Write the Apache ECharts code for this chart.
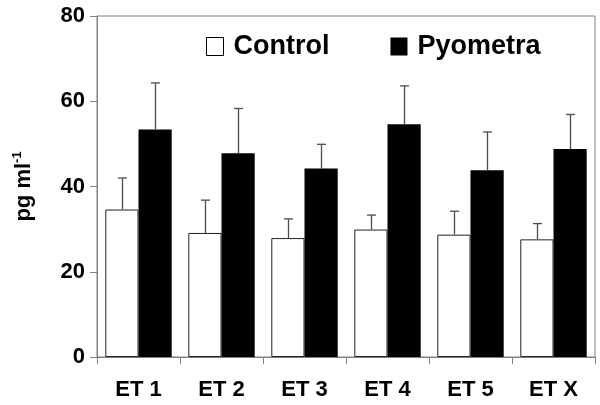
<!DOCTYPE html>
<html>
<head>
<meta charset="utf-8">
<script src="https://cdn.jsdelivr.net/npm/echarts@6/dist/echarts.min.js"></script>
<style>html,body{margin:0;padding:0;background:#fff}#c{width:600px;height:405px}</style>
</head>
<body>
<div id="c"></div>
<script>
const categories = ['ET 1', 'ET 2', 'ET 3', 'ET 4', 'ET 5', 'ET X'];
const controlMean = [34.6, 29.1, 27.9, 29.9, 28.7, 27.6];
const controlErr  = [7.4, 7.7, 4.5, 3.4, 5.5, 3.7];
const pyoMean     = [53.4, 47.8, 44.2, 54.6, 43.8, 48.8];
const pyoErr      = [10.9, 10.5, 5.7, 9.0, 9.0, 8.1];
const yTicks = [0, 20, 40, 60, 80];

const FONT = '"Liberation Sans", Arial, sans-serif';
const chart = echarts.init(document.getElementById('c'), null, {renderer: 'canvas'});

function errSeries(name, means, errs, side) {
  return {
    name: name + ' err',
    type: 'custom',
    z: 5,
    silent: true,
    data: categories.map((c, i) => [i, means[i], means[i] + errs[i]]),
    renderItem: function (params, api) {
      const band = api.size([1, 0])[0];
      const base = api.coord([api.value(0), api.value(1)]);
      const top = api.coord([api.value(0), api.value(2)]);
      const x = Math.round(base[0] + side * 0.2 * band) + 0.5;
      const cap = 4.5;
      const style = {stroke: '#4d4d4d', lineWidth: 1.3};
      return {
        type: 'group',
        children: [
          {type: 'line', shape: {x1: x, y1: base[1], x2: x, y2: top[1]}, style: style},
          {type: 'line', shape: {x1: x - cap, y1: top[1], x2: x + cap, y2: top[1]}, style: style}
        ]
      };
    }
  };
}

chart.setOption({
  animation: false,
  backgroundColor: '#fff',
  textStyle: {fontFamily: FONT},
  grid: {left: 97, right: 5, top: 16, bottom: 48, show: true, borderColor: '#808080', borderWidth: 1, containLabel: false},
  legend: {
    top: 28,
    left: 201,
    itemWidth: 17,
    itemHeight: 18,
    itemGap: 61,
    selectedMode: false,
    textStyle: {fontFamily: FONT, fontWeight: 'bold', fontSize: 27, color: '#000', padding: [0, 0, 0, 5]},
    data: [
      {name: 'Control', icon: 'rect', itemStyle: {color: '#fff', borderColor: '#000', borderWidth: 1}},
      {name: 'Pyometra', icon: 'rect', itemStyle: {color: '#000', borderColor: '#000', borderWidth: 0}}
    ]
  },
  xAxis: {
    type: 'category',
    data: categories,
    axisLine: {lineStyle: {color: '#808080', width: 1}},
    axisTick: {show: true, length: 7, lineStyle: {color: '#808080'}},
    axisLabel: {fontFamily: FONT, fontWeight: 'bold', fontSize: 22, color: '#000', margin: 22},
    splitLine: {show: false}
  },
  yAxis: {
    type: 'value',
    min: yTicks[0],
    max: yTicks[yTicks.length - 1],
    interval: yTicks[1] - yTicks[0],
    axisLine: {show: true, lineStyle: {color: '#808080', width: 1}},
    axisTick: {show: true, length: 7, lineStyle: {color: '#808080'}},
    axisLabel: {fontFamily: FONT, fontWeight: 'bold', fontSize: 22, color: '#000', margin: 12},
    splitLine: {show: false},
    name: '{a|pg ml}{s|-1}',
    nameLocation: 'middle',
    nameRotate: 90,
    nameGap: 60,
    nameTextStyle: {
      rich: {
        a: {fontFamily: FONT, fontWeight: 'bold', fontSize: 22, color: '#000', lineHeight: 26},
        s: {fontFamily: FONT, fontWeight: 'bold', fontSize: 13, color: '#000', verticalAlign: 'top', lineHeight: 26}
      }
    }
  },
  series: [
    {
      name: 'Control', type: 'bar', data: controlMean,
      barGap: '0%', barCategoryGap: '20%',
      itemStyle: {color: '#fff', borderColor: '#222', borderWidth: 1}
    },
    {
      name: 'Pyometra', type: 'bar', data: pyoMean,
      barGap: '0%', barCategoryGap: '20%',
      itemStyle: {color: '#000', borderColor: '#000', borderWidth: 0}
    },
    errSeries('Control', controlMean, controlErr, -1),
    errSeries('Pyometra', pyoMean, pyoErr, 1)
  ]
});
</script>
</body>
</html>
